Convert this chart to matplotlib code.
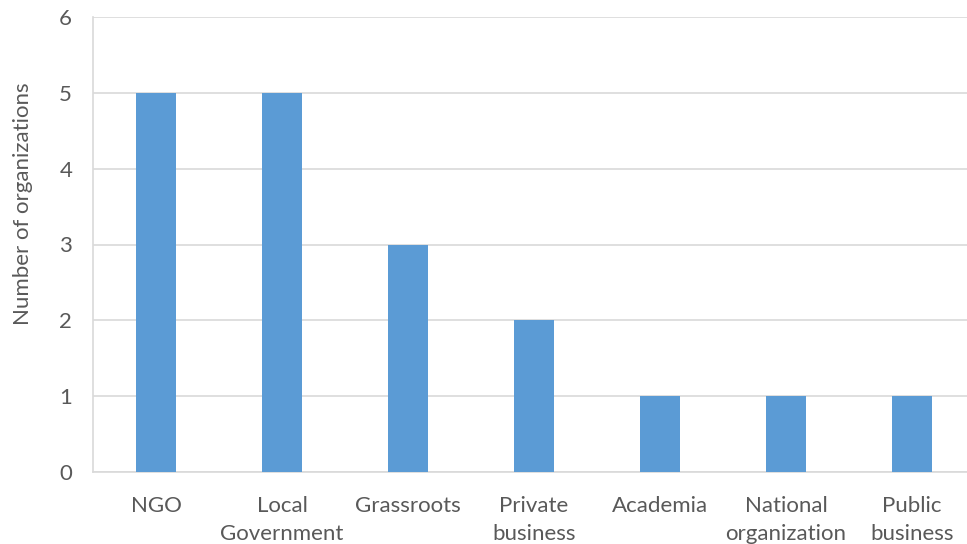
import matplotlib.pyplot as plt

categories = ['NGO', 'Local\nGovernment', 'Grassroots', 'Private\nbusiness',
              'Academia', 'National\norganization', 'Public\nbusiness']
counts = [5, 5, 3, 2, 1, 1, 1]

plt.rcParams['font.family'] = ['Lato', 'DejaVu Sans']

fig = plt.figure(figsize=(9.67, 5.44), dpi=100)
# plot area runs a little past the right edge, as in the source
ax = fig.add_axes([93 / 967, 1 - 472 / 544, 882 / 967, 455 / 544])

ax.bar(range(len(categories)), counts, width=0.31, color='#5B9BD5', zorder=3)

ax.set_xlim(-0.5, len(categories) - 0.5)
ax.set_ylim(0, 6)
ax.set_yticks(range(7))
ax.set_xticks(range(len(categories)))
ax.set_xticklabels(categories, linespacing=1.5)

ax.grid(axis='y', color='#d9d9d9', linewidth=1.2, zorder=0)
for side in ['top', 'right']:
    ax.spines[side].set_visible(False)
for side in ['left', 'bottom']:
    ax.spines[side].set_color('#d9d9d9')
    ax.spines[side].set_linewidth(1.2)

ax.tick_params(axis='both', length=0, labelsize=16, labelcolor='#595959')
ax.tick_params(axis='x', pad=17)
ax.tick_params(axis='y', pad=15)

ax.set_ylabel('Number of organizations', fontsize=16, color='#595959')
ax.yaxis.set_label_coords(-0.068, 0.59)

fig.savefig('out.png', dpi=100)
